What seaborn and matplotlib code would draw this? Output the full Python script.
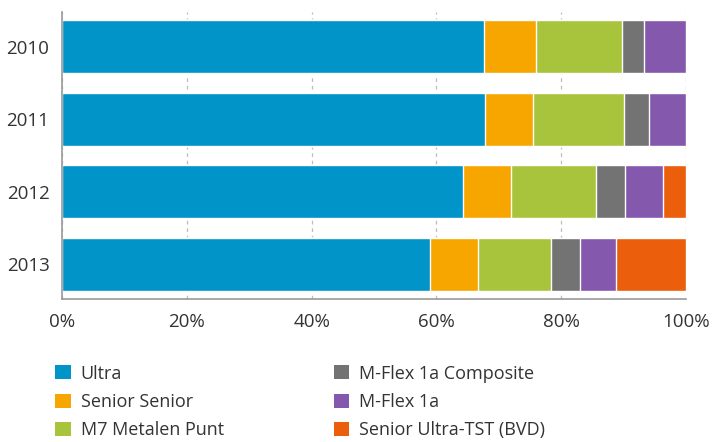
import numpy as np
import pandas as pd
import matplotlib.pyplot as plt
import seaborn as sns
from matplotlib.patches import Patch

years = ["2010", "2011", "2012", "2013"]
series = ["Ultra", "Senior Senior", "M7 Metalen Punt",
          "M-Flex 1a Composite", "M-Flex 1a", "Senior Ultra-TST (BVD)"]
ultra = [67.6, 67.8, 64.3, 58.9]
senior_senior = [8.3, 7.7, 7.7, 7.8]
m7_metalen = [13.8, 14.6, 13.6, 11.6]
mflex_composite = [3.5, 4.0, 4.6, 4.7]
mflex = [6.8, 5.9, 6.1, 5.8]
ultra_tst = [0.0, 0.0, 3.7, 11.2]
colors = ["#0094C8", "#F7A600", "#A8C43C", "#737373", "#8358AD", "#EB5E0B"]

sns.set_theme(style="white")
plt.rcParams["font.family"] = ["Open Sans", "DejaVu Sans"]

def main():
    values = np.array([ultra, senior_senior, m7_metalen,
                       mflex_composite, mflex, ultra_tst])
    cum = values.cumsum(axis=0)

    fig = plt.figure(figsize=(7.12, 4.42), dpi=100)
    ax = fig.add_axes([0.087, 0.3235, 0.8765, 0.6495])

    # stacked bars: draw cumulative totals from the outermost segment inward
    for i in range(len(series) - 1, -1, -1):
        df = pd.DataFrame({"year": years, "value": cum[i]})
        sns.barplot(data=df, x="value", y="year", color=colors[i],
                    orient="h", width=0.73, saturation=1, ax=ax, zorder=2)

    ax.set_xlim(0, 100)
    ax.set_ylim(3.48, -0.48)
    ax.set_xticks([0, 20, 40, 60, 80, 100])
    ax.set_xticklabels([f"{t}%" for t in [0, 20, 40, 60, 80, 100]])
    ax.xaxis.grid(True, linestyle=(0, (3, 3)), color="#bdbdbd", linewidth=0.9)
    ax.set_axisbelow(True)
    ax.set_xlabel("")
    ax.set_ylabel("")
    ax.tick_params(axis="both", length=0, labelsize=13.5, colors="#333333")
    ax.tick_params(axis="x", pad=10)
    ax.tick_params(axis="y", pad=9)
    for side in ["top", "right"]:
        ax.spines[side].set_visible(False)
    for side in ["left", "bottom"]:
        ax.spines[side].set_color("#999999")
        ax.spines[side].set_linewidth(1.2)

    handles = [Patch(facecolor=c, edgecolor="none") for c in colors]
    fig.legend(handles, series, loc="upper left", bbox_to_anchor=(0.055, 0.212),
               ncol=2, frameon=False, fontsize=13, handlelength=0.85,
               handleheight=0.85, handletextpad=0.55, columnspacing=6.1,
               labelspacing=0.58, labelcolor="#333333")

    fig.savefig("out.png", dpi=100)
    plt.close(fig)

if __name__ == "__main__":
    main()
